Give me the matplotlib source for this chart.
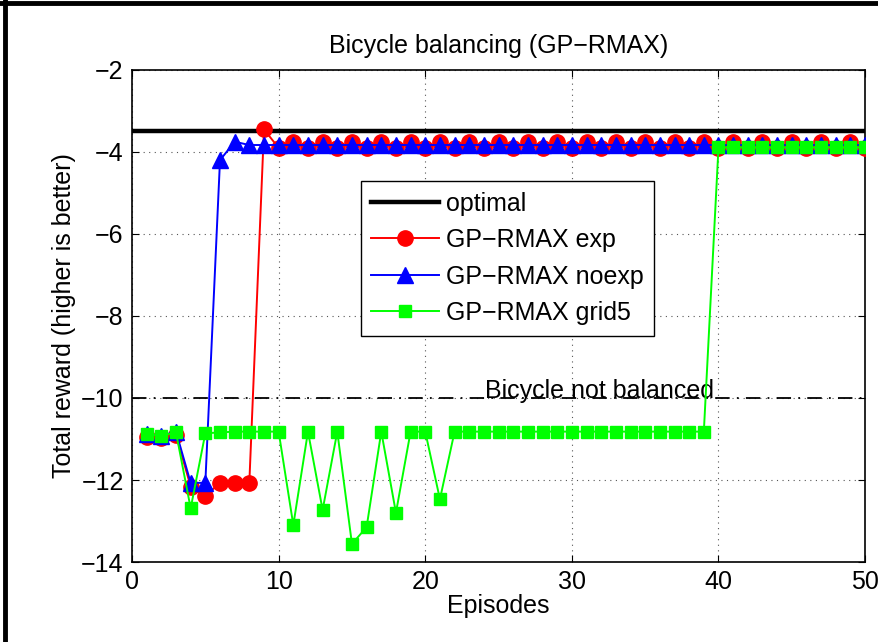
import matplotlib
matplotlib.use("Agg")
import matplotlib.pyplot as plt
from matplotlib.lines import Line2D
import numpy as np

plt.rcParams['font.family'] = ['Liberation Sans', 'DejaVu Sans']

episodes = np.arange(1, 51)

# GP-RMAX exp: odd episodes slightly above, even slightly below after convergence
exp_vals = [-10.95, -10.98, -10.9, -12.16, -12.39, -12.07, -12.07, -12.07, -3.45] + \
    [-3.9 if e % 2 == 0 else -3.76 for e in range(10, 51)]
noexp_vals = [-10.88, -10.92, -10.82, -12.07, -12.07, -4.2, -3.75] + [-3.83] * 43
grid5_vals = [-10.88, -10.92, -10.84, -12.69, -10.86, -10.84, -10.82, -10.82, -10.82, -10.82,
              -13.1, -10.82, -12.73, -10.82, -13.56, -13.15, -10.82, -12.8, -10.82, -10.82,
              -12.47] + [-10.82] * 18 + [-3.89] * 11
optimal = -3.48
not_balanced = -10

fs = 18
fig = plt.figure(figsize=(8.79, 6.42), dpi=100)
ax = fig.add_axes([0.1502, 0.1246, 0.834, 0.7664])

ax.axhline(optimal, color='black', linewidth=3.2, label='optimal', zorder=2)
ax.plot(episodes, exp_vals, color='red', marker='o', markersize=11, linewidth=1.4,
        label='GP\u2212RMAX exp', zorder=3)
ax.plot(episodes, noexp_vals, color='blue', marker='^', markersize=11, linewidth=1.4,
        label='GP\u2212RMAX noexp', zorder=4)
ax.plot(episodes, grid5_vals, color='#00ff00', marker='s', markersize=8.5, linewidth=1.4,
        label='GP\u2212RMAX grid5', zorder=5)
ax.axhline(not_balanced, color='black', linestyle=(0, (8, 4, 1, 4)), linewidth=1.3, zorder=2)
ax.text(24.1, not_balanced, 'Bicycle not balanced', fontsize=fs, va='baseline', ha='left')

ax.set_xlim(0, 50)
ax.set_ylim(-14, -2)
ax.set_xticks(np.arange(0, 51, 10))
ax.set_yticks(np.arange(-14, -1, 2))
ax.grid(True, linestyle=(0, (1, 4)), color='#555555', linewidth=0.8)
ax.tick_params(direction='in', length=5, labelsize=fs, top=True, right=True, pad=6)
for s in ax.spines.values():
    s.set_linewidth(1.2)

ax.set_title('Bicycle balancing (GP\u2212RMAX)', fontsize=fs, pad=12)
ax.set_xlabel('Episodes', fontsize=fs, labelpad=0)
ax.set_ylabel('Total reward (higher is better)', fontsize=fs, labelpad=4)

leg = ax.legend(loc='upper left', bbox_to_anchor=(0.312, 0.774), fontsize=fs,
                fancybox=False, edgecolor='black', framealpha=1, handlelength=2.7,
                borderpad=0.42, labelspacing=0.5, handletextpad=0.3, borderaxespad=0)
leg.get_frame().set_linewidth(1.0)

# figure border seen at left and top edges
fig.add_artist(Line2D([0.006, 0.006], [0, 1], color='black', linewidth=3.5, transform=fig.transFigure))
fig.add_artist(Line2D([0, 1], [0.996, 0.996], color='black', linewidth=3.5, transform=fig.transFigure))

fig.savefig('out.png', dpi=100)
